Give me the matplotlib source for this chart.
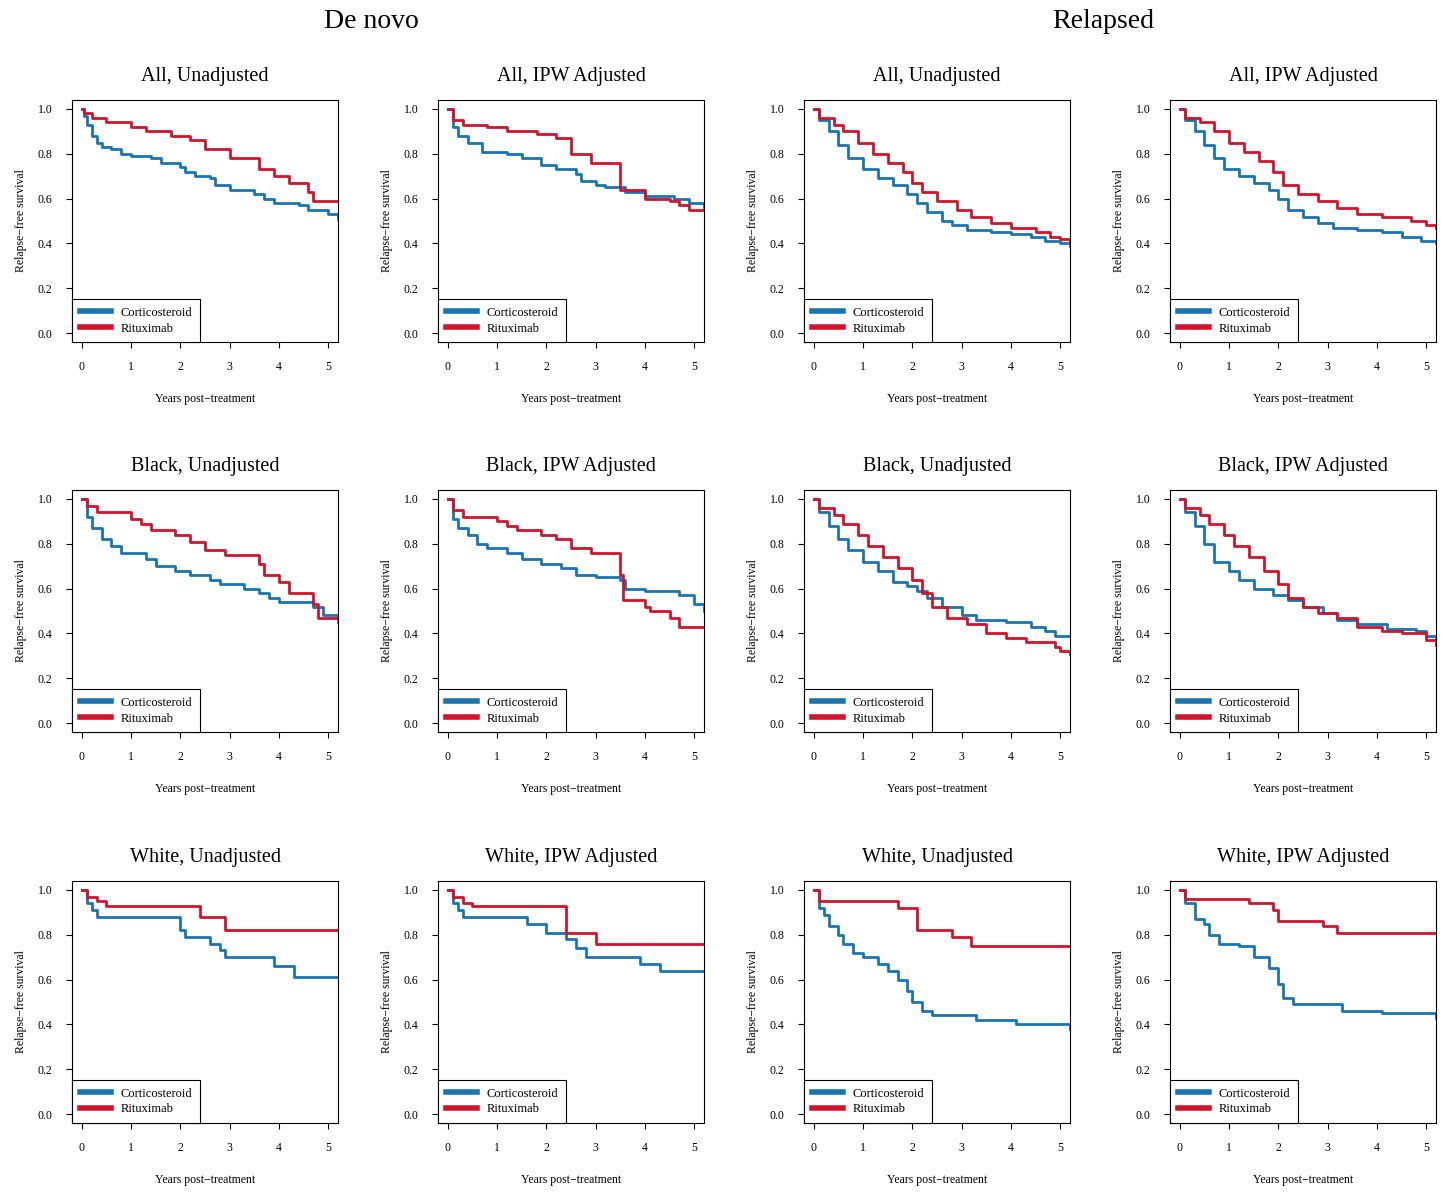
import numpy as np
from matplotlib import pyplot as plt
from matplotlib.lines import Line2D

plt.rcParams['font.family'] = ['Liberation Serif', 'DejaVu Serif']

BLUE = '#1a74b0'
RED = '#d0142c'

col_titles = ['De novo', 'Relapsed']
groups = ['All', 'Black', 'White']
adjust = ['Unadjusted', 'IPW Adjusted']

# (time, survival) step knots
# rows: All, Black, White ; cols: denovo-unadj, denovo-ipw, relapsed-unadj, relapsed-ipw
cortico = [
    [[(0,1),(0.05,.97),(.1,.93),(.2,.88),(.3,.85),(.4,.83),(.6,.82),(.8,.80),(1,.79),(1.4,.78),(1.6,.76),(2,.74),(2.1,.72),(2.3,.70),(2.6,.69),(2.7,.66),(3,.64),(3.5,.62),(3.7,.60),(3.9,.58),(4.4,.57),(4.6,.55),(5,.53),(5.2,.51)],
     [(0,1),(.1,.92),(.2,.88),(.4,.85),(.7,.81),(1.2,.80),(1.5,.78),(1.9,.75),(2.2,.73),(2.6,.71),(2.7,.68),(3,.66),(3.2,.65),(3.6,.63),(4,.61),(4.6,.60),(4.9,.58),(5.2,.56)],
     [(0,1),(.1,.95),(.3,.90),(.5,.84),(.7,.78),(1,.73),(1.3,.69),(1.6,.66),(1.9,.62),(2.1,.58),(2.3,.54),(2.6,.50),(2.8,.48),(3.1,.46),(3.6,.45),(4,.44),(4.4,.43),(4.7,.41),(5,.40),(5.2,.39)],
     [(0,1),(.1,.95),(.3,.90),(.5,.84),(.7,.78),(.9,.73),(1.2,.70),(1.5,.67),(1.8,.64),(2,.60),(2.2,.55),(2.5,.52),(2.8,.49),(3.1,.47),(3.6,.46),(4.1,.45),(4.5,.43),(4.9,.41),(5.2,.40)]],
    [[(0,1),(.1,.92),(.2,.87),(.4,.82),(.6,.79),(.8,.76),(1.3,.73),(1.5,.70),(1.9,.68),(2.2,.66),(2.6,.64),(2.8,.62),(3.3,.60),(3.6,.58),(3.8,.56),(4,.54),(4.7,.52),(4.9,.48),(5.2,.45)],
     [(0,1),(.1,.91),(.2,.87),(.4,.84),(.6,.80),(.8,.78),(1.2,.76),(1.5,.73),(1.9,.71),(2.3,.69),(2.6,.66),(3,.65),(3.5,.64),(3.6,.60),(4,.59),(4.7,.57),(5,.53),(5.2,.50)],
     [(0,1),(.1,.94),(.3,.88),(.5,.82),(.7,.77),(1,.72),(1.3,.68),(1.6,.63),(1.9,.61),(2.1,.59),(2.3,.56),(2.6,.52),(3,.48),(3.3,.46),(3.9,.45),(4.4,.43),(4.7,.41),(4.9,.39),(5.2,.39)],
     [(0,1),(.1,.94),(.3,.88),(.5,.80),(.7,.72),(1,.68),(1.2,.64),(1.5,.60),(1.9,.57),(2.2,.55),(2.5,.52),(2.9,.49),(3.2,.46),(3.6,.44),(4.2,.42),(4.8,.41),(5,.39),(5.2,.38)]],
    [[(0,1),(.1,.94),(.2,.91),(.3,.88),(1.9,.88),(2,.82),(2.1,.79),(2.6,.76),(2.8,.73),(2.9,.70),(3.9,.66),(4.3,.61),(5.2,.61)],
     [(0,1),(.1,.94),(.2,.91),(.3,.88),(1.6,.85),(2,.81),(2.4,.78),(2.6,.74),(2.8,.70),(3.9,.67),(4.3,.64),(5.2,.64)],
     [(0,1),(.1,.92),(.2,.89),(.3,.84),(.5,.80),(.6,.76),(.8,.72),(1,.70),(1.3,.67),(1.5,.64),(1.7,.60),(1.9,.55),(2,.50),(2.2,.46),(2.4,.44),(3.3,.42),(4.1,.40),(5.2,.38)],
     [(0,1),(.1,.94),(.3,.87),(.5,.85),(.6,.80),(.8,.76),(1.2,.75),(1.5,.70),(1.8,.65),(2,.58),(2.1,.52),(2.3,.49),(3.3,.46),(4.1,.45),(5.2,.43)]],
]
ritux = [
    [[(0,1),(.05,.98),(.2,.96),(.5,.94),(1,.92),(1.3,.90),(1.8,.88),(2.2,.86),(2.5,.82),(3,.78),(3.6,.73),(3.9,.70),(4.2,.67),(4.6,.63),(4.7,.59),(5.2,.59)],
     [(0,1),(.1,.95),(.3,.93),(.8,.92),(1.2,.90),(1.8,.89),(2.2,.87),(2.5,.80),(2.9,.76),(3.5,.64),(4,.60),(4.5,.59),(4.7,.57),(4.9,.55),(5.2,.55)],
     [(0,1),(.1,.96),(.4,.93),(.6,.90),(.9,.85),(1.2,.80),(1.5,.76),(1.8,.72),(2,.67),(2.2,.63),(2.5,.59),(2.9,.55),(3.2,.52),(3.6,.49),(4,.47),(4.5,.45),(4.8,.43),(5,.42),(5.2,.41)],
     [(0,1),(.1,.96),(.4,.94),(.7,.90),(1,.85),(1.3,.81),(1.6,.77),(1.9,.72),(2.1,.66),(2.4,.62),(2.8,.59),(3.2,.56),(3.6,.53),(4.1,.52),(4.7,.50),(5,.48),(5.2,.47)]],
    [[(0,1),(.1,.97),(.3,.94),(1,.91),(1.2,.89),(1.4,.86),(1.9,.84),(2.2,.81),(2.5,.77),(2.9,.75),(3.6,.71),(3.7,.66),(4,.63),(4.2,.58),(4.7,.53),(4.8,.47),(5.2,.47)],
     [(0,1),(.1,.95),(.3,.92),(1,.90),(1.2,.88),(1.4,.86),(1.9,.84),(2.2,.82),(2.5,.78),(2.9,.76),(3.5,.66),(3.55,.55),(4,.52),(4.1,.50),(4.5,.47),(4.7,.43),(5.2,.43)],
     [(0,1),(.1,.96),(.4,.93),(.6,.89),(.9,.84),(1.1,.79),(1.4,.74),(1.7,.69),(2,.64),(2.2,.58),(2.4,.52),(2.7,.47),(3.1,.44),(3.5,.40),(3.9,.38),(4.3,.36),(4.9,.34),(5,.32),(5.2,.31)],
     [(0,1),(.1,.96),(.4,.93),(.6,.89),(.9,.84),(1.1,.79),(1.4,.74),(1.7,.68),(2,.62),(2.2,.56),(2.5,.52),(2.8,.49),(3.2,.47),(3.6,.43),(4.1,.41),(4.5,.40),(5,.37),(5.2,.35)]],
    [[(0,1),(.1,.97),(.3,.95),(.5,.93),(2.4,.88),(2.9,.82),(5.2,.82)],
     [(0,1),(.1,.97),(.3,.94),(.5,.93),(2.4,.81),(3,.76),(5.2,.76)],
     [(0,1),(.1,.95),(1.7,.92),(2.1,.82),(2.8,.79),(3.2,.75),(5.2,.75)],
     [(0,1),(.1,.96),(1.4,.94),(1.9,.91),(2,.86),(2.9,.84),(3.2,.81),(5.2,.81)]],
]

W, H = 1453, 1204
fig = plt.figure(figsize=(W/100, H/100), dpi=100)
col_px = [72, 438, 804, 1170]
row_px = [100, 490, 881]
aw, ah = 266, 242

for r in range(3):
    for c in range(4):
        ax = fig.add_axes([col_px[c]/W, 1-(row_px[r]+ah)/H, aw/W, ah/H])
        for data, colr in ((cortico[r][c], BLUE), (ritux[r][c], RED)):
            t, s = zip(*data)
            ax.step(t, s, where='post', color=colr, lw=2)
        ax.set_xlim(-0.2, 5.2)
        ax.set_ylim(-0.04, 1.04)
        ax.set_xticks(range(6))
        ax.set_yticks(np.arange(0, 1.01, 0.2))
        ax.set_yticklabels(['%.1f' % v for v in np.arange(0, 1.01, 0.2)])
        ax.tick_params(labelsize=8.5, length=4, pad=10)
        ax.set_title('%s, %s' % (groups[r], adjust[c % 2]), fontsize=14.5, pad=14)
        ax.set_xlabel('Years post\u2212treatment', fontsize=8.5, labelpad=14)
        ax.set_ylabel('Relapse\u2212free survival', fontsize=8.5, labelpad=8)
        handles = [Line2D([], [], color=BLUE, lw=4), Line2D([], [], color=RED, lw=4)]
        leg = ax.legend(handles, ['Corticosteroid', 'Rituximab'], loc='lower left',
                        fontsize=9, fancybox=False, edgecolor='black', framealpha=1,
                        borderaxespad=0, handlelength=2.5, borderpad=0.6, labelspacing=0.3)
        leg.get_frame().set_linewidth(0.8)

fig.text(371/W, 1-22/H, col_titles[0], ha='center', va='center', fontsize=20)
fig.text(1103/W, 1-22/H, col_titles[1], ha='center', va='center', fontsize=20)
fig.savefig('out.png', dpi=100)
